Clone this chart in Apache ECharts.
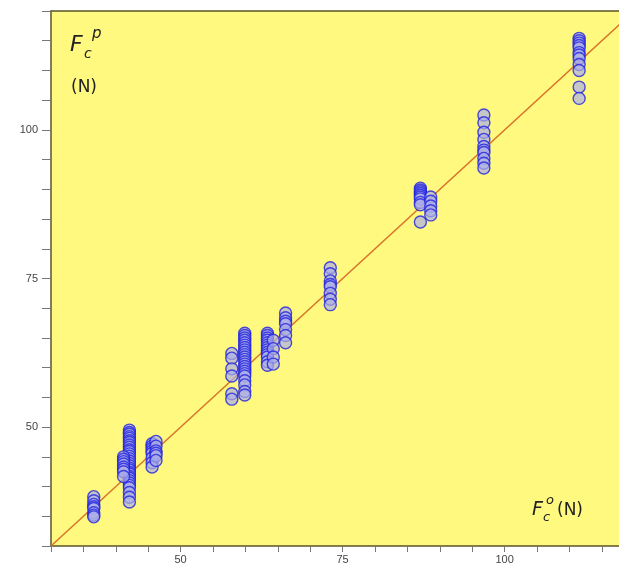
<!DOCTYPE html>
<html>
<head>
<meta charset="utf-8">
<script src="https://cdn.jsdelivr.net/npm/echarts@6/dist/echarts.min.js"></script>
<style>html,body{margin:0;padding:0;background:#fff}#c{width:619px;height:569px}</style>
</head>
<body>
<div id="c"></div>
<script>
// Observed cutting force (x) for each measurement group
const observed = [36.6, 42.1, 41.2, 45.6, 46.2, 57.9, 59.9, 63.4, 64.3, 66.2, 73.1, 87.0, 88.6, 96.8, 111.5];
// Predicted values for each group (same order as observed)
const predicted = [
  [38.3, 37.6, 37.0, 36.6, 36.3, 35.6, 35.2, 34.9],
  [49.5, 49.1, 48.8, 48.4, 48.1, 47.7, 47.4, 47.0, 46.6, 46.2, 45.9, 45.5, 45.1, 44.7, 44.3, 43.9, 43.5, 43.1, 42.8, 42.4, 42.1, 41.7, 41.4, 41.0, 40.6, 40.2, 39.8, 39.0, 38.2, 37.4],
  [45.0, 44.6, 44.2, 43.8, 43.3, 42.9, 42.5, 41.7],
  [47.2, 46.8, 46.4, 46.0, 45.6, 44.8, 44.0, 43.3],
  [47.6, 46.8, 46.0, 45.6, 45.2, 44.4],
  [62.4, 61.6, 59.8, 58.6, 55.6, 54.7],
  [65.8, 65.4, 65.0, 64.6, 64.2, 63.8, 63.4, 63.0, 62.6, 62.2, 61.8, 61.4, 61.0, 60.6, 60.2, 59.8, 59.4, 59.0, 58.6, 57.8, 57.1, 56.0, 55.4],
  [65.8, 65.4, 65.0, 64.6, 64.2, 63.8, 63.4, 63.0, 62.6, 62.2, 61.8, 61.0, 60.4],
  [64.6, 63.2, 61.8, 60.6],
  [69.2, 68.4, 67.8, 67.4, 66.4, 65.4, 64.2],
  [76.8, 75.8, 74.6, 74.0, 73.6, 72.5, 71.5, 70.6],
  [90.2, 89.9, 89.6, 89.3, 89.0, 88.7, 88.4, 87.8, 87.4, 84.5],
  [88.7, 88.0, 87.2, 86.4, 85.7],
  [102.5, 101.2, 99.6, 98.4, 97.2, 96.6, 96.2, 95.2, 94.4, 93.6],
  [115.4, 115.0, 114.6, 114.2, 113.8, 113.0, 112.6, 112.0, 111.0, 110.0, 107.2, 105.3]
];
const xMin = 30, xMax = 117.65, yMin = 30, yMax = 120;
const tickLabels = [50, 75, 100];
const identityLine = [[30, 30], [120, 120]];

const points = [];
observed.forEach((x, i) => predicted[i].forEach(y => points.push([x, y])));

const chart = echarts.init(document.getElementById('c'));
const axisCol = '#5A5428';
const lblFmt = v => tickLabels.indexOf(v) >= 0 ? String(v) : '';
const lblStyle = {color: '#444', fontSize: 11, fontFamily: 'Liberation Sans, Arial, sans-serif'};
chart.setOption({
  animation: false,
  backgroundColor: '#ffffff',
  grid: {left: 51, top: 11, bottom: 23, right: 0, show: true, outerBoundsMode: 'none',
         containLabel: false, backgroundColor: '#FFF97F', borderWidth: 0},
  xAxis: [
    {type: 'value', min: xMin, max: xMax, interval: 5,
     axisLine: {show: true, onZero: false, lineStyle: {color: axisCol, width: 1.5}},
     axisTick: {show: true, length: 6, lineStyle: {color: '#777'}},
     splitLine: {show: false},
     axisLabel: Object.assign({formatter: lblFmt, margin: 8, showMaxLabel: false}, lblStyle)},
    {type: 'value', position: 'top', min: xMin, max: xMax, interval: 5,
     axisLine: {show: true, onZero: false, lineStyle: {color: axisCol, width: 1.5}},
     axisTick: {show: false}, axisLabel: {show: false}, splitLine: {show: false}}
  ],
  yAxis: {type: 'value', min: yMin, max: yMax, interval: 5,
    axisLine: {show: true, onZero: false, lineStyle: {color: axisCol, width: 1.5}},
    axisTick: {show: true, length: 9, lineStyle: {color: '#777'}},
    splitLine: {show: false},
    axisLabel: Object.assign({formatter: lblFmt, margin: 13}, lblStyle)},
  series: [
    {type: 'line', data: identityLine, symbol: 'none', z: 1, clip: true,
     lineStyle: {color: '#D8742A', width: 1.5}},
    {type: 'scatter', data: points, symbol: 'circle', symbolSize: 12, z: 2,
     itemStyle: {color: 'rgba(172,175,232,0.85)', borderColor: '#2222E0', borderWidth: 1.4}}
  ],
  graphic: [
    {type: 'text', left: 70, top: 34, style: {text: 'F', font: 'italic 22px "DejaVu Sans", sans-serif', fill: '#222'}},
    {type: 'text', left: 92, top: 27, style: {text: 'p', font: 'italic 15px "DejaVu Sans", sans-serif', fill: '#222'}},
    {type: 'text', left: 84, top: 47, style: {text: 'c', font: 'italic 14px "DejaVu Sans", sans-serif', fill: '#222'}},
    {type: 'text', left: 71, top: 79, style: {text: '(N)', font: '17px "DejaVu Sans", sans-serif', fill: '#222'}},
    {type: 'text', left: 532, top: 501, style: {text: 'F', font: 'italic 19px "DejaVu Sans", sans-serif', fill: '#222'}},
    {type: 'text', left: 546, top: 494, style: {text: 'o', font: 'italic 13px "DejaVu Sans", sans-serif', fill: '#222'}},
    {type: 'text', left: 543, top: 511, style: {text: 'c', font: 'italic 13px "DejaVu Sans", sans-serif', fill: '#222'}},
    {type: 'text', left: 557, top: 502, style: {text: '(N)', font: '17px "DejaVu Sans", sans-serif', fill: '#222'}}
  ]
});
</script>
</body>
</html>
